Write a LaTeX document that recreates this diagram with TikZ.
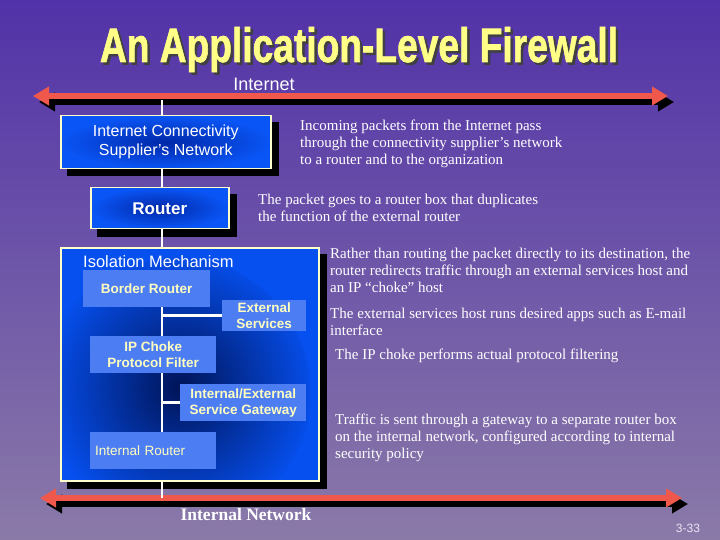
\documentclass[tikz,border=0pt]{standalone}
\usepackage{fontspec}
\setmainfont{Liberation Serif}
\setsansfont{Liberation Sans}
\newfontfamily\titlefont{Liberation Sans}[BoldFeatures={FakeBold=1.5}]
\usetikzlibrary{arrows.meta,calc}
\definecolor{bgtop}{HTML}{5232A8}
\definecolor{bgbot}{HTML}{8A7AA8}
\definecolor{arrowred}{HTML}{F0584C}
\definecolor{cream}{HTML}{FFFFCC}
\definecolor{titleyellow}{HTML}{FFFF88}
\definecolor{boxblue}{HTML}{0A55F5}
\definecolor{boxdark}{HTML}{0028A8}
\definecolor{isoblue}{HTML}{0650F0}
\definecolor{isodark}{HTML}{001458}
\definecolor{innerblue}{HTML}{4D7DF2}
\definecolor{innertext}{HTML}{FFFFC0}
\definecolor{pagenum}{HTML}{E8E4F4}
\pgfdeclarelayer{bgl}
\pgfdeclarelayer{shd}
\pgfsetlayers{bgl,shd,main}
\newcommand{\titletext}{\resizebox{518pt}{35pt}{\titlefont\bfseries An Application-Level Firewall}}
\begin{document}
\begin{tikzpicture}[x=1pt,y=-1pt,
  outerbox/.style={draw=cream, line width=1.5pt, shading=radial, inner color=boxdark, outer color=boxblue,
    anchor=north west, inner sep=0pt, text=white, align=center},
  innerbox/.style={fill=innerblue, anchor=north west, inner sep=0pt, text=innertext,
    font=\sffamily\bfseries\fontsize{13.5}{16}\selectfont, align=center},
  wline/.style={draw=white, line width=2.5pt},
  note/.style={anchor=west, align=left, inner sep=0pt, text=white, font=\fontsize{15}{17}\selectfont},
  bigarrow/.style={line width=6pt, {Triangle[length=16pt,width=18pt]}-{Triangle[length=16pt,width=18pt]}}
]
\useasboundingbox (0,0) rectangle (720,540);
\begin{pgfonlayer}{bgl}
\shade[top color=bgtop, bottom color=bgbot] (0,0) rectangle (720,540);
\end{pgfonlayer}

% title with its shadow
\node[anchor=base, inner sep=0pt] (title) at (359,62)
  {\makebox[0pt][l]{\hspace{2.5pt}\raisebox{-2.5pt}{\color{black!75}\titletext}}\color{titleyellow}\titletext};

% internet arrow
\node[text=white, font=\sffamily\fontsize{18}{20}\selectfont] (inetlabel) at (264,84) {Internet};
\coordinate (inL) at (33,96);
\coordinate (inR) at (668,96);
\coordinate (inLs) at (39,102);
\coordinate (inRs) at (674,102);
\draw[bigarrow, black] (inLs) -- (inRs);
\draw[bigarrow, arrowred] (inL) -- (inR);

% internal network arrow
\coordinate (bnL) at (40,498);
\coordinate (bnR) at (682,498);
\coordinate (bnLs) at (46,504);
\coordinate (bnRs) at (688,504);
\draw[bigarrow, black] (bnLs) -- (bnRs);
\draw[bigarrow, arrowred] (bnL) -- (bnR);
\node[text=white, font=\bfseries\fontsize{17.5}{20}\selectfont] (intnet) at (246,515) {Internal Network};

\coordinate (spine) at (162,0);

% left boxes
\node[outerbox, minimum width=210pt, minimum height=53pt, font=\sffamily\fontsize{16}{19}\selectfont]
  (supplier) at (60,115) {Internet Connectivity\\Supplier’s Network};
\node[outerbox, minimum width=138pt, minimum height=41pt, font=\sffamily\bfseries\fontsize{17}{19}\selectfont]
  (router) at (90,187) {Router};
\node[anchor=north west, draw=cream, line width=1.5pt, fill=isoblue, inner sep=0pt,
  minimum width=258pt, minimum height=233pt,
  path picture={\shade[inner color=isodark, outer color=isoblue]
     ($(path picture bounding box.center)+(-14,28)$) circle[radius=135pt];}]
  (iso) at (60,247) {};

\begin{pgfonlayer}{shd}
\foreach \b in {supplier,router,iso}{
  \fill[black] ([shift={(7,7)}]\b.north west) rectangle ([shift={(7,7)}]\b.south east);
}
\end{pgfonlayer}

\node[anchor=west, inner sep=0pt, text=white, font=\sffamily\fontsize{16.5}{19}\selectfont] (isolabel) at (83,262) {Isolation Mechanism};

\node[innerbox, minimum width=127pt, minimum height=37pt] (border) at (83,270) {Border Router};
\node[innerbox, minimum width=84pt, minimum height=31pt] (ext) at (222,300) {External\\Services};
\node[innerbox, minimum width=126pt, minimum height=37pt] (choke) at (90,336) {IP Choke\\Protocol Filter};
\node[innerbox, minimum width=126pt, minimum height=37pt] (gate) at (180,384) {Internal/External\\Service Gateway};
\node[innerbox, minimum width=126pt, minimum height=37pt, inner xsep=5pt, text width=116pt, align=left,
  font=\sffamily\fontsize{13.5}{16}\selectfont] (introuter) at (90,432) {Internal Router};

% connectors
\draw[wline] (inL -| spine) ++(0,4) -- (supplier.north -| spine);
\draw[wline] (supplier.south -| spine) -- (router.north -| spine);
\draw[wline] (router.south -| spine) -- (iso.north -| spine);
\draw[wline] (border.south -| spine) -- (choke.north -| spine);
\draw[wline] (spine |- ext.west) -- (ext.west);
\draw[wline] (choke.south -| spine) -- (introuter.north -| spine);
\draw[wline] (spine |- gate.west) -- (gate.west);
\draw[wline] (iso.south -| spine) -- (bnL -| spine);

% notes
\node[note] (n1) at (300,144) {Incoming packets from the Internet pass\\through the connectivity supplier’s network\\to a router and to the organization};
\node[note] (n2) at (258,207.5) {The packet goes to a router box that duplicates\\the function of the external router};
\node[note] (n3) at (330,270.5) {Rather than routing the packet directly to its destination, the\\router redirects traffic through an external services host and\\an IP “choke” host};
\node[note] (n4) at (330,321.5) {The external services host runs desired apps such as E-mail\\interface};
\node[note] (n5) at (335,356) {The IP choke performs actual protocol filtering};
\node[note] (n6) at (335,438) {Traffic is sent through a gateway to a separate router box\\on the internal network, configured according to internal\\security policy};

\node[text=pagenum, font=\sffamily\fontsize{12}{14}\selectfont] (pg) at (688,528) {3-33};
\end{tikzpicture}
\end{document}
